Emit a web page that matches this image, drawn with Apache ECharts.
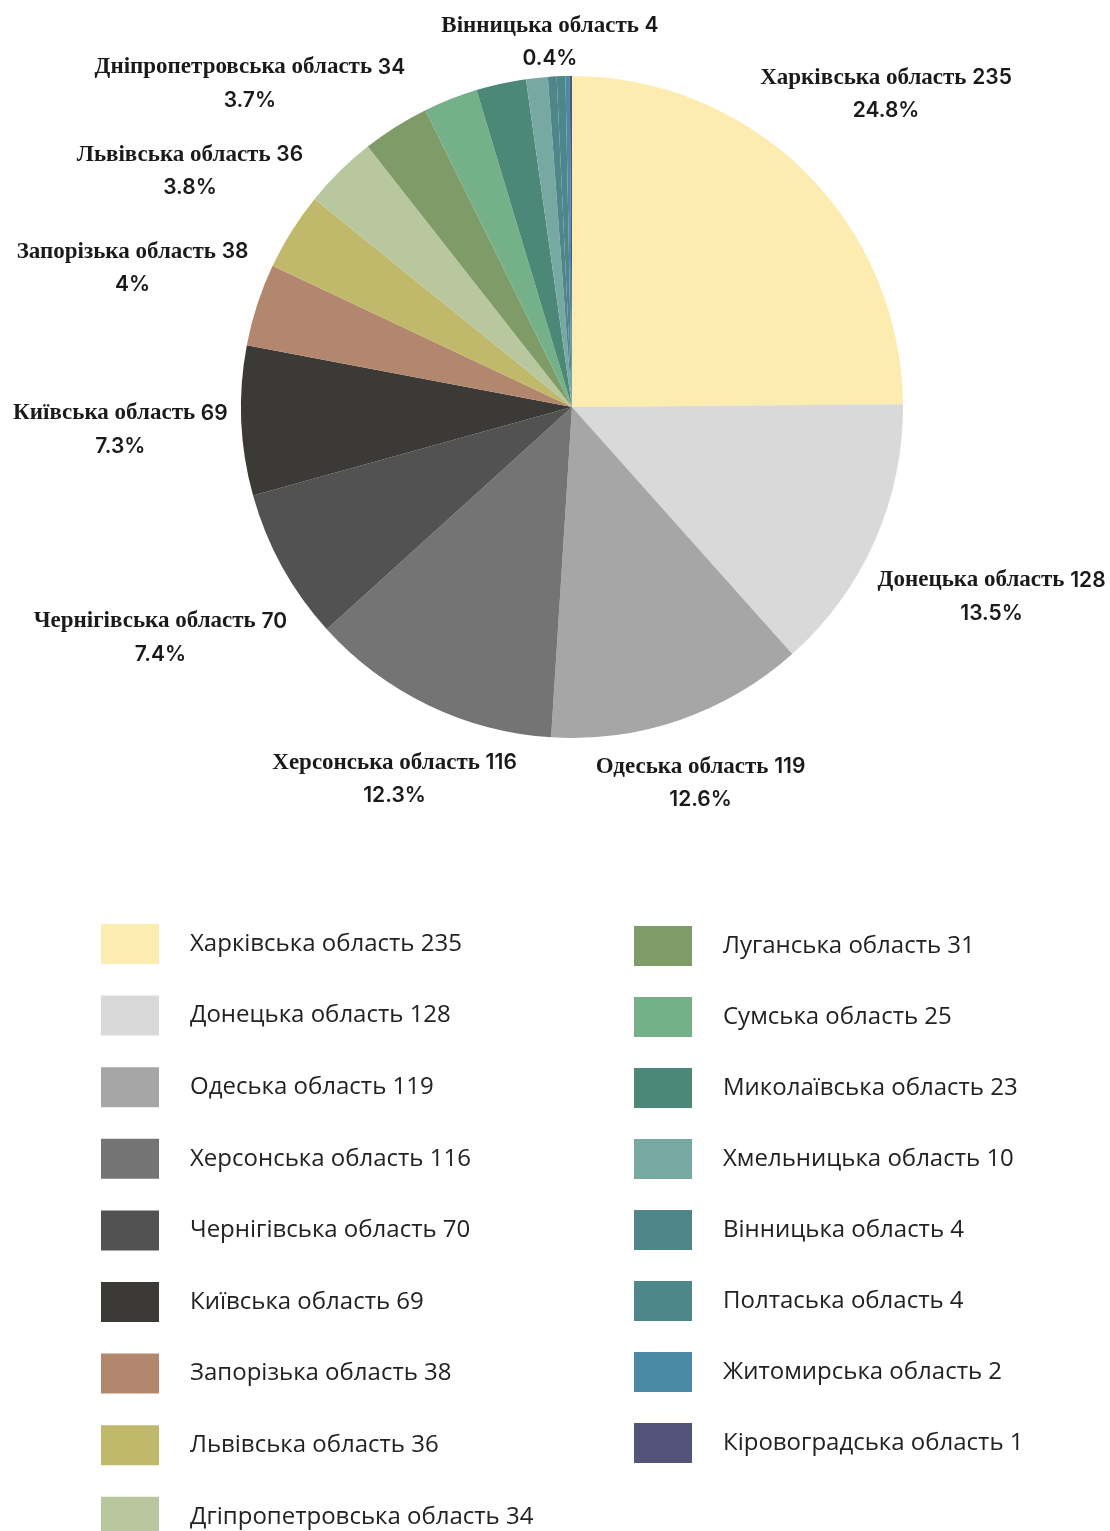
<!DOCTYPE html>
<html>
<head>
<meta charset="utf-8">
<script src="https://cdn.jsdelivr.net/npm/echarts@6/dist/echarts.min.js"></script>
<style>
  html, body { margin: 0; padding: 0; background: #fff; }
  #chart { width: 1110px; height: 1531px; }
</style>
</head>
<body>
<div id="chart"></div>
<script>
// регіони і кількість
const regions = [
  'Харківська область', 'Донецька область', 'Одеська область', 'Херсонська область',
  'Чернігівська область', 'Київська область', 'Запорізька область', 'Львівська область',
  'Дніпропетровська область', 'Луганська область', 'Сумська область', 'Миколаївська область',
  'Хмельницька область', 'Вінницька область', 'Полтаська область', 'Житомирська область',
  'Кіровоградська область',
]
const counts = [235, 128, 119, 116, 70, 69, 38, 36, 34, 31, 25, 23, 10, 4, 4, 2, 1]

// підписи в легенді (як на картинці)
const legendNames = [
  'Харківська область', 'Донецька область', 'Одеська область', 'Херсонська область',
  'Чернігівська область', 'Київська область', 'Запорізька область', 'Львівська область',
  'Дгіпропетровська область', 'Луганська область', 'Сумська область', 'Миколаївська область',
  'Хмельницька область', 'Вінницька область', 'Полтаська область', 'Житомирська область',
  'Кіровоградська область',
]

// відсотки на підписах (порожньо = без підпису)
const percentLabels = ['24.8%', '13.5%', '12.6%', '12.3%', '7.4%', '7.3%', '4%', '3.8%', '3.7%', '', '', '', '', '0.4%', '', '', '']

const colors = [
  '#fdecb0', '#d9d9d9', '#a6a6a6', '#747474', '#525252', '#3b3a37', '#b2876d', '#c0b86b',
  '#b8c79d', '#7f9b68', '#74b088', '#4b8878', '#78a8a2', '#4f868a', '#4e878b', '#4a8aa6',
  '#525579',
]

// відстань підпису від центру
const labelRadius = [446, 459, 394, 409, 470, 452, 462, 451, 459, 0, 0, 0, 0, 369, 0, 0, 0]

const CX = 572
const CY = 407
const R = 331

const total = counts.reduce((a, b) => a + b, 0)
const midAngles = []
let acc = 0
counts.forEach((v) => {
  midAngles.push((acc + v / 2) / total * Math.PI * 2)
  acc += v
})

const chart = echarts.init(document.getElementById('chart'))

const pieData = regions.map((name, i) => ({
  name,
  value: counts[i],
  itemStyle: { color: colors[i] },
  label: { show: percentLabels[i] !== '' },
}))

const legendBase = {
  orient: 'vertical',
  icon: 'rect',
  itemWidth: 58,
  itemHeight: 40,
  height: 800,
  padding: 0,
  textStyle: {
    fontFamily: 'Open Sans',
    fontSize: 24,
    color: '#222',
    padding: [0, 0, 0, 26],
  },
  formatter: (name) => {
    const i = regions.indexOf(name)
    return `${legendNames[i]} ${counts[i]}`
  },
  selectedMode: false,
}

chart.setOption({
  animation: false,
  backgroundColor: '#fff',
  legend: [
    {
      ...legendBase,
      left: 101,
      top: 924,
      itemGap: 31.6,
      data: regions.slice(0, 9),
    },
    {
      ...legendBase,
      left: 634,
      top: 926,
      itemGap: 31,
      data: regions.slice(9),
    },
  ],
  series: [
    {
      type: 'pie',
      center: [CX, CY],
      radius: [0, R],
      startAngle: 90,
      clockwise: true,
      itemStyle: { borderWidth: 0 },
      labelLine: { show: false },
      label: {
        position: 'outside',
        width: 420,
        overflow: 'none',
        align: 'center',
        formatter: (p) => {
          const i = p.dataIndex
          return `{n|${regions[i]} }{v|${counts[i]}}\n{p|${percentLabels[i]}}`
        },
        rich: {
          n: { fontFamily: 'Liberation Serif', fontWeight: 'bold', fontSize: 23, color: '#1a1a1a', lineHeight: 33, align: 'center' },
          v: { fontFamily: 'Inter', fontWeight: 600, fontSize: 21, color: '#1a1a1a', lineHeight: 33, align: 'center' },
          p: { fontFamily: 'Inter', fontWeight: 600, fontSize: 21, color: '#1a1a1a', lineHeight: 33, align: 'center' },
        },
      },
      labelLayout: (params) => {
        const i = params.dataIndex
        const a = midAngles[i]
        return {
          x: CX + Math.sin(a) * labelRadius[i],
          y: CY - Math.cos(a) * labelRadius[i] + 4,
          align: 'center',
          verticalAlign: 'middle',
        }
      },
      data: pieData,
    },
  ],
})
</script>
</body>
</html>
